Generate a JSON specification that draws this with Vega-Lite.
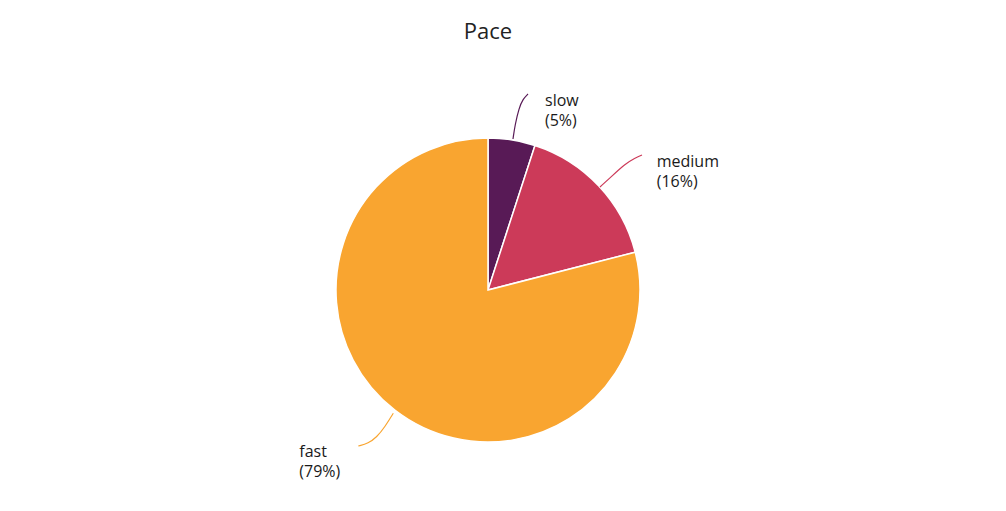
{
  "$schema": "https://vega.github.io/schema/vega-lite/v6.json",
  "width": 976,
  "height": 440,
  "autosize": {"type": "none"},
  "padding": {"left": 0, "top": 70, "right": 30, "bottom": 1},
  "background": "#ffffff",
  "title": {"text": "Pace", "fontSize": 22, "font": "Open Sans", "fontWeight": "normal", "color": "#222222", "anchor": "middle", "baseline": "alphabetic", "offset": 9},
  "config": {"view": {"stroke": null}},
  "datasets": {
    "slices": [
      {"pace": "slow", "share": 5, "i": 1, "label": "slow\n(5%)", "lx": 57, "ly": 184.3},
      {"pace": "medium", "share": 16, "i": 2, "label": "medium\n(16%)", "lx": 168.7, "ly": 122.7},
      {"pace": "fast", "share": 79, "i": 3, "label": "fast\n(79%)", "lx": -188.7, "ly": -166.7}
    ],
    "leaders": [
      {"pace": "slow", "i": 1, "x": 25, "y": 151},
      {"pace": "slow", "i": 2, "x": 27, "y": 165},
      {"pace": "slow", "i": 3, "x": 31, "y": 182},
      {"pace": "slow", "i": 4, "x": 35, "y": 191},
      {"pace": "slow", "i": 5, "x": 40, "y": 196},
      {"pace": "medium", "i": 1, "x": 112, "y": 103},
      {"pace": "medium", "i": 2, "x": 124, "y": 114},
      {"pace": "medium", "i": 3, "x": 137, "y": 126},
      {"pace": "medium", "i": 4, "x": 147, "y": 132},
      {"pace": "medium", "i": 5, "x": 154, "y": 135},
      {"pace": "fast", "i": 1, "x": -94.7, "y": -123.3},
      {"pace": "fast", "i": 2, "x": -103, "y": -136.7},
      {"pace": "fast", "i": 3, "x": -111.3, "y": -147.3},
      {"pace": "fast", "i": 4, "x": -119.7, "y": -153.3},
      {"pace": "fast", "i": 5, "x": -129.7, "y": -156}
    ]
  },
  "layer": [
    {
      "data": {"name": "slices"},
      "mark": {"type": "arc", "outerRadius": 152, "stroke": "#ffffff", "strokeWidth": 1.5},
      "encoding": {
        "theta": {"field": "share", "type": "quantitative", "stack": true},
        "order": {"field": "i", "type": "quantitative"},
        "color": {"field": "pace", "type": "nominal", "scale": {"domain": ["slow", "medium", "fast"], "range": ["#581a56", "#cc3a59", "#f9a530"]}, "legend": null}
      }
    },
    {
      "data": {"name": "leaders"},
      "mark": {"type": "line", "interpolate": "basis", "strokeWidth": 1.2},
      "encoding": {
        "x": {"field": "x", "type": "quantitative", "scale": {"domain": [-488, 488], "nice": false, "zero": false}, "axis": null},
        "y": {"field": "y", "type": "quantitative", "scale": {"domain": [-220, 220], "nice": false, "zero": false}, "axis": null},
        "order": {"field": "i", "type": "quantitative"},
        "detail": {"field": "pace", "type": "nominal"},
        "color": {"field": "pace", "type": "nominal", "scale": {"domain": ["slow", "medium", "fast"], "range": ["#581a56", "#cc3a59", "#f9a530"]}, "legend": null}
      }
    },
    {
      "data": {"name": "slices"},
      "mark": {"type": "text", "align": "left", "baseline": "alphabetic", "font": "Open Sans", "fontSize": 16, "fontWeight": 500, "lineHeight": 20, "color": "#1a1a1a", "lineBreak": "\n"},
      "encoding": {
        "x": {"field": "lx", "type": "quantitative", "scale": {"domain": [-488, 488], "nice": false, "zero": false}, "axis": null},
        "y": {"field": "ly", "type": "quantitative", "scale": {"domain": [-220, 220], "nice": false, "zero": false}, "axis": null},
        "text": {"field": "label", "type": "nominal"}
      }
    }
  ]
}
